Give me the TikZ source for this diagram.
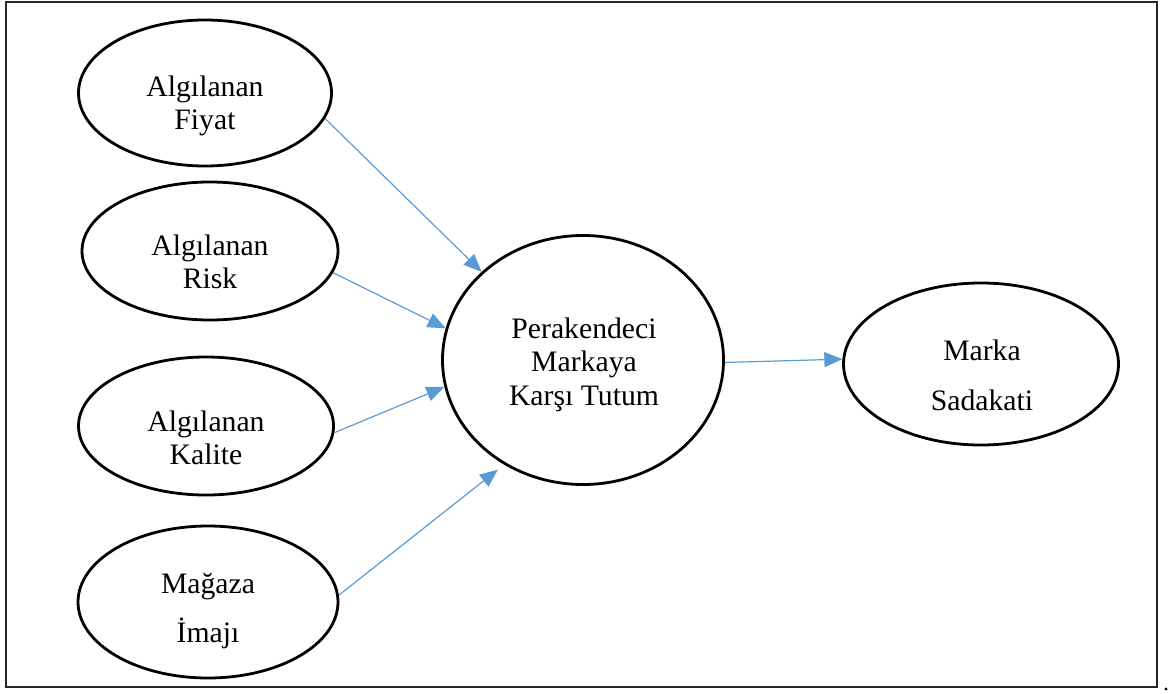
\documentclass[tikz,border=0pt]{standalone}
\usepackage{fontspec}
\setmainfont{Liberation Serif}
\usetikzlibrary{shapes.geometric, arrows.meta}

\definecolor{linkblue}{RGB}{91,155,213}

\tikzset{
  oval/.style={ellipse, draw, line width=2.8pt, inner sep=0pt},
  lbl/.style={anchor=base, align=center, inner sep=0pt,
    font=\fontsize{29.7}{33}\selectfont},
  link/.style={draw=linkblue, line width=1.2pt,
    -{Triangle[length=18pt,width=15pt]}},
}

\begin{document}
\begin{tikzpicture}[x=1pt, y=-1pt]
    \useasboundingbox (0,0) rectangle (1169,693);
    \draw [line width=2pt, black!85] (5.5,2) rectangle (1157,687);
    \fill (1166,689) circle (1.6);

    % left column
    \node [oval, minimum width=253, minimum height=146] (fiyat) at (205,93) {};
    \node [lbl] (fiyat-t) at (205,129) {Algılanan\\Fiyat};

    \node [oval, minimum width=256, minimum height=138] (risk) at (210,251) {};
    \node [lbl] (risk-t) at (210,288) {Algılanan\\Risk};

    \node [oval, minimum width=255, minimum height=138] (kalite) at (206,426) {};
    \node [lbl] (kalite-t) at (206,464) {Algılanan\\Kalite};

    \node [oval, minimum width=260, minimum height=152] (magaza) at (208,602) {};
    \node [lbl] (magaza-t) at (208,642) {Mağaza\\[16pt]İmajı};

    % middle and right
    \node [oval, minimum width=281, minimum height=249] (tutum) at (583,360) {};
    \node [lbl] (tutum-t) at (584,405) {Perakendeci\\Markaya\\[1pt]Karşı Tutum};

    \node [oval, minimum width=275, minimum height=162] (sadakat) at (981,364) {};
    \node [lbl] (sadakat-t) at (982,410) {Marka\\[17pt]Sadakati};

    \draw [link] (fiyat.-12) -- (tutum.139);
    \draw [link] (risk.-10) -- (tutum.167);
    \draw [link] (kalite.-3) -- (tutum.191);
    \draw [link, shorten >=8pt] (magaza.3) -- (tutum.233);
    \draw [link] (tutum.-1) -- (sadakat.178.3);

  \end{tikzpicture}
\end{document}
